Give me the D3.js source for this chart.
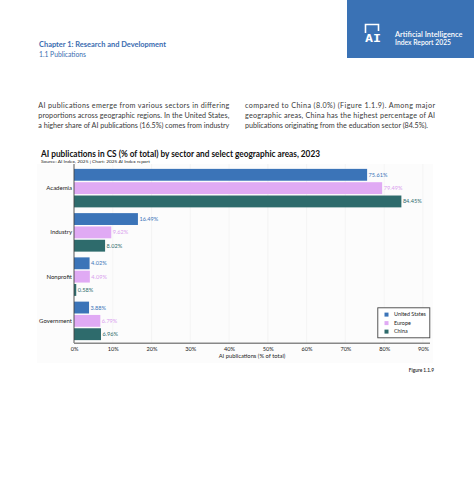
<!DOCTYPE html>
<html><head><meta charset="utf-8">
<script src="https://cdn.jsdelivr.net/npm/d3@7"></script>
<style>html,body{margin:0;padding:0;background:#fff;}svg{display:block;}</style>
</head><body>
<svg id="c" width="474" height="500"></svg>
<script>
const sectors = ["Academia", "Industry", "Nonprofit", "Government"];
const regions = ["United States", "Europe", "China"];
const usValues = [75.61, 16.49, 4.02, 3.88];
const europeValues = [79.49, 9.62, 4.09, 6.79];
const chinaValues = [84.45, 8.02, 0.58, 6.96];
const xTicks = [0, 10, 20, 30, 40, 50, 60, 70, 80, 90];
const regionColors = ["#3b74b8", "#e0aaf4", "#2e6b6c"];
const labelColors = ["#3b74b8", "#d9a0ee", "#2e6b6c"];

const font = "Lato, 'Open Sans', sans-serif";
const svg = d3.select("#c");

// Header
svg.append("rect").attr("x", 347).attr("y", 0).attr("width", 127).attr("height", 58).attr("fill", "#3a72b5");
svg.append("path").attr("d", "M365.5,33 V24.5 H378.5 V31").attr("fill", "none").attr("stroke", "#fff").attr("stroke-width", 1.6);
svg.append("text").attr("x", 365).attr("y", 42).attr("fill", "#fff").attr("font-family", "'DejaVu Sans Mono', monospace")
  .attr("font-weight", "bold").attr("font-size", 11).attr("textLength", 16).attr("lengthAdjust", "spacingAndGlyphs").text("AI");
svg.append("text").attr("x", 395).attr("y", 36.5).attr("fill", "#fff").attr("font-family", font).attr("font-weight", 600)
  .attr("font-size", 7.5).attr("textLength", 67.5).attr("lengthAdjust", "spacingAndGlyphs").text("Artificial Intelligence");
svg.append("text").attr("x", 395).attr("y", 45.2).attr("fill", "#fff").attr("font-family", font).attr("font-weight", 600)
  .attr("font-size", 7.5).attr("textLength", 56).attr("lengthAdjust", "spacingAndGlyphs").text("Index Report 2025");

svg.append("text").attr("x", 39).attr("y", 47).attr("fill", "#3a6cb0").attr("font-family", font).attr("font-weight", "bold")
  .attr("font-size", 7.8).attr("textLength", 127).attr("lengthAdjust", "spacingAndGlyphs").text("Chapter 1: Research and Development");
svg.append("text").attr("x", 39).attr("y", 56.8).attr("fill", "#3a6cb0").attr("font-family", font)
  .attr("font-size", 7.5).attr("textLength", 47).attr("lengthAdjust", "spacingAndGlyphs").text("1.1 Publications");

// Body text
const leftLines = ["AI publications emerge from various sectors in differing",
  "proportions across geographic regions. In the United States,",
  "a higher share of AI publications (16.5%) comes from industry"];
const rightLines = ["compared to China (8.0%) (Figure 1.1.9). Among major",
  "geographic areas, China has the highest percentage of AI",
  "publications originating from the education sector (84.5%)."];
leftLines.forEach((t, i) => {
  svg.append("text").attr("x", 38.3).attr("y", 107.5 + i * 10).attr("fill", "#3a3a3a").attr("font-family", font)
    .attr("font-size", 7.2).attr("textLength", 191).attr("lengthAdjust", "spacing").text(t);
});
rightLines.forEach((t, i) => {
  const el = svg.append("text").attr("x", 245).attr("y", 107.5 + i * 10).attr("fill", "#3a3a3a").attr("font-family", font)
    .attr("font-size", 7.2).attr("lengthAdjust", "spacing").text(t);
  el.attr("textLength", i < 2 ? 190 : 183);
});

// Chart title
svg.append("text").attr("x", 41).attr("y", 156.5).attr("fill", "#111").attr("font-family", font).attr("font-weight", "bold")
  .attr("font-size", 9).attr("textLength", 279).attr("lengthAdjust", "spacingAndGlyphs")
  .text("AI publications in CS (% of total) by sector and select geographic areas, 2023");
svg.append("text").attr("x", 41).attr("y", 162.8).attr("fill", "#222").attr("font-family", font)
  .attr("font-size", 4.6).attr("textLength", 109).attr("lengthAdjust", "spacingAndGlyphs")
  .text("Source: AI Index, 2025 | Chart: 2025 AI Index report");

// Panel
svg.append("rect").attr("x", 37).attr("y", 164).attr("width", 396).attr("height", 199).attr("fill", "#fcfcfc");

const x = d3.scaleLinear().domain([0, 90]).range([74, 422.9]);
const y0 = d3.scaleBand().domain(sectors).range([166, 343]).paddingInner(0.13).paddingOuter(0.065);
const y1 = d3.scaleBand().domain(regions).range([0, y0.bandwidth()]).paddingInner(0.11);

// Grid
svg.append("g").selectAll("line").data(xTicks.slice(1)).join("line")
  .attr("x1", d => x(d)).attr("x2", d => x(d)).attr("y1", 164).attr("y2", 343)
  .attr("stroke", "#f0f0f0").attr("stroke-width", 0.7);

const rows = sectors.map((s, i) => ({ sector: s, vals: [usValues[i], europeValues[i], chinaValues[i]] }));
const g = svg.append("g");
rows.forEach(r => {
  r.vals.forEach((v, j) => {
    const yy = y0(r.sector) + y1(regions[j]);
    g.append("rect").attr("x", x(0)).attr("y", yy).attr("width", x(v) - x(0)).attr("height", y1.bandwidth())
      .attr("fill", regionColors[j]);
    g.append("text").attr("x", x(v) + 1.5).attr("y", yy + y1.bandwidth() / 2).attr("dy", "0.35em")
      .attr("fill", labelColors[j]).attr("font-family", font).attr("font-size", 5.6).text(v.toFixed(2) + "%");
  });
});

// Y axis
const yAxis = svg.append("g").attr("transform", "translate(74,0)")
  .call(d3.axisLeft(y0).tickSize(0).tickPadding(2));
yAxis.select(".domain").attr("stroke", "#444").attr("stroke-width", 0.9).attr("d", "M0,164V343");
yAxis.selectAll("text").attr("font-family", font).attr("font-size", 6).attr("fill", "#222");

// X axis
const xAxis = svg.append("g").attr("transform", "translate(0,343.3)")
  .call(d3.axisBottom(x).tickValues(xTicks).tickFormat(d => d + "%").tickSize(0).tickPadding(4));
xAxis.select(".domain").attr("stroke", "#888").attr("stroke-width", 1.4).attr("d", "M74,0H430");
xAxis.selectAll("text").attr("font-family", font).attr("font-size", 5.6).attr("fill", "#222");
svg.append("text").attr("x", 252).attr("y", 358).attr("text-anchor", "middle").attr("fill", "#222")
  .attr("font-family", font).attr("font-size", 5.8).text("AI publications (% of total)");

// Legend
const lg = svg.append("g");
lg.append("rect").attr("x", 377.8).attr("y", 307.8).attr("width", 52).attr("height", 30)
  .attr("fill", "#fff").attr("stroke", "#444").attr("stroke-width", 0.9);
regions.forEach((r, j) => {
  const cy = 314.6 + j * 8.5;
  lg.append("rect").attr("x", 384.5).attr("y", cy - 2).attr("width", 4).attr("height", 4).attr("fill", regionColors[j]);
  lg.append("text").attr("x", 394).attr("y", cy).attr("dy", "0.35em").attr("fill", "#222")
    .attr("font-family", font).attr("font-size", 5.4).text(r);
});

svg.append("text").attr("x", 434).attr("y", 371.5).attr("text-anchor", "end").attr("fill", "#222")
  .attr("font-family", font).attr("font-weight", 600).attr("font-size", 4.8).text("Figure 1.1.9");
</script>
</body></html>
